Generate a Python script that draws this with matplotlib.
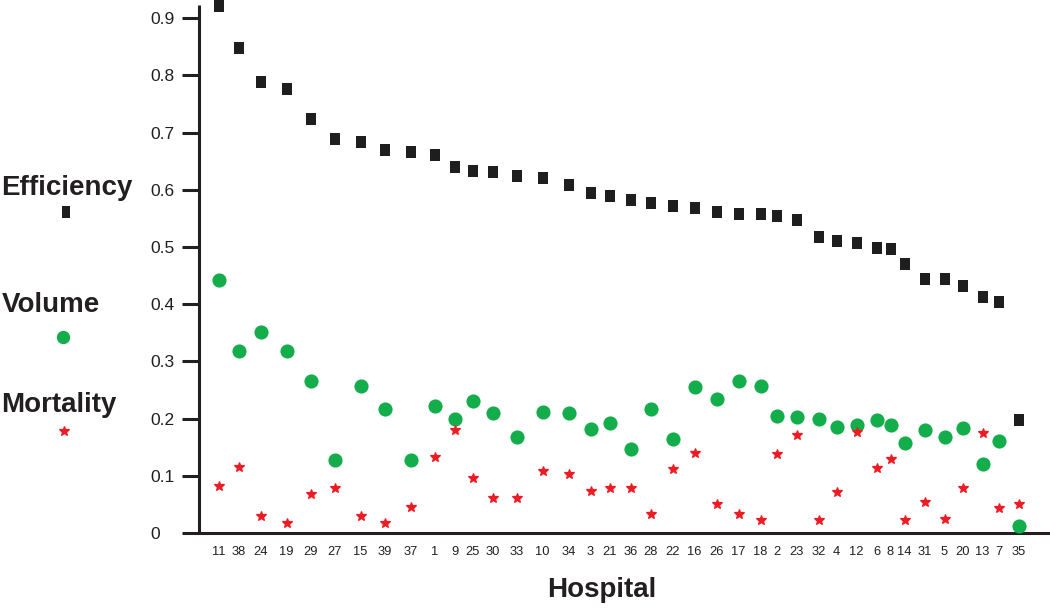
import matplotlib
matplotlib.use("Agg")
import matplotlib.pyplot as plt
from matplotlib.lines import Line2D

plt.rcParams['font.family'] = ['Liberation Sans', 'DejaVu Sans']

# ---- data ----
hospitals = ["11", "38", "24", "19", "29", "27", "15", "39", "37", "1", "9", "25", "30",
             "33", "10", "34", "3", "21", "36", "28", "22", "16", "26", "17", "18", "2",
             "23", "32", "4", "12", "6", "8", "14", "31", "5", "20", "13", "7", "35"]
# horizontal position of each hospital along the axis
hospital_x = [1.0, 2.0, 3.1, 4.4, 5.6, 6.8, 8.1, 9.3, 10.6, 11.8, 12.8, 13.7, 14.7,
              15.9, 17.2, 18.5, 19.6, 20.55, 21.6, 22.6, 23.7, 24.8, 25.9, 27.0, 28.1, 28.9,
              29.9, 31.0, 31.9, 32.9, 33.9, 34.6, 35.3, 36.3, 37.3, 38.2, 39.2, 40.0, 41.0]
efficiency = [0.922, 0.848, 0.788, 0.776, 0.723, 0.689, 0.683, 0.669, 0.666, 0.660, 0.639,
              0.633, 0.631, 0.625, 0.620, 0.608, 0.595, 0.589, 0.583, 0.577, 0.572, 0.569,
              0.561, 0.557, 0.557, 0.555, 0.547, 0.517, 0.511, 0.507, 0.499, 0.497, 0.471,
              0.444, 0.444, 0.431, 0.413, 0.404, 0.197]
volume = [0.442, 0.319, 0.352, 0.318, 0.266, 0.127, 0.257, 0.216, 0.127, 0.222, 0.200,
          0.231, 0.209, 0.167, 0.212, 0.209, 0.182, 0.192, 0.147, 0.216, 0.164, 0.255,
          0.234, 0.266, 0.257, 0.205, 0.202, 0.199, 0.186, 0.188, 0.197, 0.189, 0.158,
          0.180, 0.167, 0.184, 0.121, 0.161, 0.013]
mortality = [0.082, 0.116, 0.029, 0.018, 0.069, 0.079, 0.029, 0.018, 0.046, 0.133, 0.180,
             0.096, 0.062, 0.062, 0.109, 0.104, 0.073, 0.078, 0.078, 0.034, 0.112, 0.139,
             0.051, 0.034, 0.023, 0.138, 0.171, 0.022, 0.071, 0.177, 0.113, 0.129, 0.022,
             0.055, 0.024, 0.079, 0.174, 0.044, 0.051]
yticks = [0, 0.1, 0.2, 0.3, 0.4, 0.5, 0.6, 0.7, 0.8, 0.9]
ytick_labels = ["0", "0.1", "0.2", "0.3", "0.4", "0.5", "0.6", "0.7", "0.8", "0.9"]
series_names = ["Efficiency", "Volume", "Mortality"]

# ---- style ----
W, H = 1050, 609
BLACK = "#1e1e1e"
GREEN = "#13ae4b"
RED = "#ed1c24"
TXT = "#231f20"
rect = [(-0.38, -0.5), (0.38, -0.5), (0.38, 0.5), (-0.38, 0.5), (-0.38, -0.5)]

fig = plt.figure(figsize=(W / 100, H / 100), dpi=100)
ax_left, ax_bottom_px, ax_top_px = 198.5, 533, 5
ax = fig.add_axes([ax_left / W, (H - ax_bottom_px) / H, 1 - ax_left / W,
                   (ax_bottom_px - ax_top_px) / H])

ax.plot(hospital_x, efficiency, linestyle="none", marker=rect, markersize=8.6,
        color=BLACK, markeredgewidth=0, clip_on=False, zorder=3)
ax.plot(hospital_x, volume, linestyle="none", marker="o", markersize=10.2,
        color=GREEN, markeredgewidth=0, clip_on=False, zorder=4)
ax.plot(hospital_x, mortality, linestyle="none", marker="*", markersize=7.8,
        color=RED, markeredgecolor=RED, markeredgewidth=0.9, clip_on=False, zorder=5)

ax.set_xlim(0, (W - ax_left) / 20)
ax.set_ylim(0, (ax_bottom_px - ax_top_px) / 572)

for s in ["top", "right"]:
    ax.spines[s].set_visible(False)
for s in ["left", "bottom"]:
    ax.spines[s].set_linewidth(2.2)
    ax.spines[s].set_color(TXT)
ax.spines["left"].set_capstyle("butt")

ax.set_yticks(yticks)
ax.set_yticklabels(ytick_labels)
ax.tick_params(axis="y", direction="out", length=12.2, width=2.2, color=TXT,
               pad=22.7, labelsize=12.5, labelcolor=TXT)
for lab in ax.get_yticklabels():
    lab.set_horizontalalignment("left")

ax.set_xticks(hospital_x)
ax.set_xticklabels(hospitals)
ax.tick_params(axis="x", length=0, pad=9.5, labelsize=9.3, labelcolor=TXT)

ax.set_xlabel("Hospital", fontsize=20, fontweight="bold", color=TXT)
ax.xaxis.set_label_coords((601.7 - ax_left) / (W - ax_left), -(597 - ax_bottom_px) / (ax_bottom_px - ax_top_px))
ax.xaxis.label.set_verticalalignment("baseline")

# ---- left-side key ----
key_text = [(1, 195), (2, 311.7), (1.5, 411.7)]
key_mark = [(66, 211.5), (62.7, 336.7), (64, 430.7)]
key_style = [dict(marker=rect, markersize=8.0, color=BLACK, markeredgewidth=0),
             dict(marker="o", markersize=9.6, color=GREEN, markeredgewidth=0),
             dict(marker="*", markersize=7.4, color=RED, markeredgecolor=RED,
                  markeredgewidth=0.9)]
for name, (tx, ty), (mx, my), st in zip(series_names, key_text, key_mark, key_style):
    fig.text(tx / W, 1 - ty / H, name, fontsize=20, fontweight="bold", color=TXT,
             ha="left", va="baseline")
    fig.add_artist(Line2D([mx / W], [1 - my / H], transform=fig.transFigure,
                          linestyle="none", **st))

fig.savefig("out.png", dpi=100, facecolor="white")
